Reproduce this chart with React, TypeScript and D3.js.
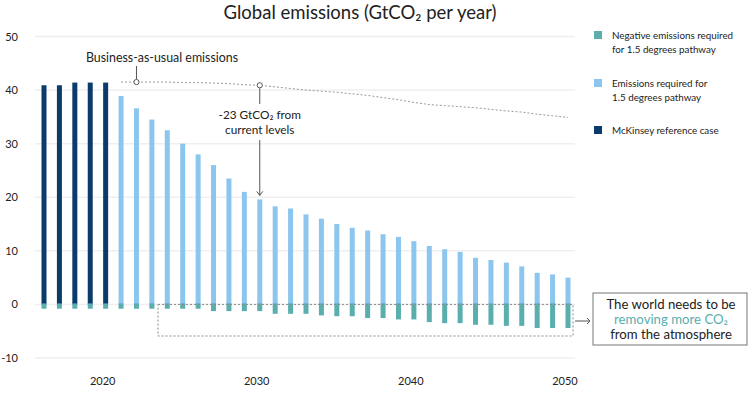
import { useEffect, useRef } from 'react'
import * as d3 from 'd3'

const years = d3.range(2016, 2051)
const referenceYears = [2016, 2017, 2018, 2019, 2020]
const referenceCase = [40.9, 40.9, 41.4, 41.4, 41.4]
const pathwayYears = d3.range(2021, 2051)
const pathwayEmissions = [
	38.9, 36.6, 34.5, 32.5, 30.0, 28.0, 26.0, 23.5, 21.0, 19.6,
	18.3, 17.9, 16.8, 16.0, 15.0, 14.3, 13.8, 13.1, 12.6, 11.8,
	10.9, 10.3, 9.8, 8.7, 8.3, 7.8, 7.1, 5.9, 5.6, 5.0,
]
const negativeEmissions = [
	-0.8, -0.8, -0.8, -0.8, -0.8, -0.8, -0.8, -0.8, -0.8, -0.8, -0.8,
	-1.25, -1.25, -1.25, -1.25, -1.75, -1.75, -1.75, -2.05, -2.2, -2.2,
	-2.55, -2.55, -2.8, -2.8, -3.3, -3.5, -3.5, -3.8, -3.8, -4.0, -4.0,
	-4.4, -4.4, -4.4,
]
const businessAsUsual = [
	41.5, 41.5, 41.5, 41.5, 41.4, 41.4, 41.3, 41.2, 41.0, 40.9,
	40.6, 40.3, 40.0, 39.8, 39.6, 39.3, 39.0, 38.6, 38.2, 37.7,
	37.3, 37.1, 36.9, 36.7, 36.4, 36.1, 35.9, 35.5, 35.2, 34.9,
]
const yTicks = [-10, 0, 10, 20, 30, 40, 50]
const xTicks = [2020, 2030, 2040, 2050]
const legendItems = [
	{ color: '#5aaeae', lines: ['Negative emissions required', 'for 1.5 degrees pathway'] },
	{ color: '#8cc6ee', lines: ['Emissions required for', '1.5 degrees pathway'] },
	{ color: '#0b3b6a', lines: ['McKinsey reference case'] },
]

const NAVY = '#0b3b6a'
const LIGHT = '#8cc6ee'
const TEAL = '#5aaeae'
const TEXT = '#222'
const FONT = 'Lato, "Open Sans", sans-serif'

const App = () => {
	const svgRef = useRef(null)

	useEffect(() => {
		document.body.style.margin = '0'
		const width = 752
		const height = 395
		const svg = d3.select(svgRef.current)
		svg.selectAll('*').remove()
		svg.attr('width', width).attr('height', height).style('font-family', FONT)

		const x = d3.scalePoint().domain(years).range([44, 568])
		const y = d3.scaleLinear().domain([-10, 50]).range([358, 36.5])
		const barW = 5

		// Title
		svg
			.append('text')
			.attr('x', 360)
			.attr('y', 19)
			.attr('text-anchor', 'middle')
			.attr('font-size', 18.5)
			.attr('fill', TEXT)
			.text('Global emissions (GtCO₂ per year)')

		// Grid
		svg
			.append('g')
			.selectAll('line')
			.data(yTicks)
			.join('line')
			.attr('x1', 35)
			.attr('x2', 575)
			.attr('y1', (d) => y(d))
			.attr('y2', (d) => y(d))
			.attr('stroke', '#efefef')
			.attr('stroke-width', 1.5)

		svg
			.append('g')
			.selectAll('text')
			.data(yTicks)
			.join('text')
			.attr('x', 18)
			.attr('y', (d) => y(d) + 4)
			.attr('text-anchor', 'end')
			.attr('font-size', 11)
			.attr('fill', TEXT)
			.text((d) => d)

		svg
			.append('g')
			.selectAll('text')
			.data(xTicks)
			.join('text')
			.attr('x', (d) => x(d) - 3)
			.attr('y', 385)
			.attr('text-anchor', 'middle')
			.attr('font-size', 11)
			.attr('fill', TEXT)
			.text((d) => d)

		// Bars
		svg
			.append('g')
			.selectAll('rect')
			.data(referenceYears)
			.join('rect')
			.attr('x', (d) => x(d) - barW / 2)
			.attr('width', barW)
			.attr('y', (d, i) => y(referenceCase[i]))
			.attr('height', (d, i) => y(0) - y(referenceCase[i]))
			.attr('fill', NAVY)

		svg
			.append('g')
			.selectAll('rect')
			.data(pathwayYears)
			.join('rect')
			.attr('x', (d) => x(d) - barW / 2)
			.attr('width', barW)
			.attr('y', (d, i) => y(pathwayEmissions[i]))
			.attr('height', (d, i) => y(0) - y(pathwayEmissions[i]))
			.attr('fill', LIGHT)

		svg
			.append('g')
			.selectAll('rect')
			.data(years)
			.join('rect')
			.attr('x', (d) => x(d) - barW / 2)
			.attr('width', barW)
			.attr('y', y(0) - 1)
			.attr('height', (d, i) => y(negativeEmissions[i]) - y(0) + 1)
			.attr('fill', TEAL)

		// Business-as-usual line
		const line = d3
			.line()
			.x((d, i) => x(pathwayYears[i]))
			.y((d) => y(d))
		svg
			.append('path')
			.datum(businessAsUsual)
			.attr('d', line)
			.attr('fill', 'none')
			.attr('stroke', '#999')
			.attr('stroke-width', 1)
			.attr('stroke-dasharray', '2,2')

		const bauX = x(2022)
		const bauY = y(businessAsUsual[1])
		svg
			.append('line')
			.attr('x1', bauX)
			.attr('x2', bauX)
			.attr('y1', 66)
			.attr('y2', bauY - 3)
			.attr('stroke', '#555')
		svg
			.append('circle')
			.attr('cx', bauX)
			.attr('cy', bauY)
			.attr('r', 2.6)
			.attr('fill', 'white')
			.attr('stroke', '#555')
		svg
			.append('text')
			.attr('x', 162)
			.attr('y', 62)
			.attr('text-anchor', 'middle')
			.attr('font-size', 12.4)
			.attr('fill', TEXT)
			.text('Business-as-usual emissions')

		// -23 GtCO2 annotation
		const gapX = x(2030)
		const gapY = y(businessAsUsual[9])
		const gapEnd = y(pathwayEmissions[9]) - 4
		svg
			.append('line')
			.attr('x1', gapX)
			.attr('x2', gapX)
			.attr('y1', gapY + 3)
			.attr('y2', 104)
			.attr('stroke', '#555')
		svg
			.append('line')
			.attr('x1', gapX)
			.attr('x2', gapX)
			.attr('y1', 140)
			.attr('y2', gapEnd)
			.attr('stroke', '#555')
		svg
			.append('path')
			.attr('d', `M${gapX - 3},${gapEnd - 4} L${gapX},${gapEnd} L${gapX + 3},${gapEnd - 4}`)
			.attr('fill', 'none')
			.attr('stroke', '#555')
		svg
			.append('circle')
			.attr('cx', gapX)
			.attr('cy', gapY)
			.attr('r', 2.6)
			.attr('fill', 'white')
			.attr('stroke', '#555')
		svg
			.append('g')
			.selectAll('text')
			.data(['-23 GtCO₂ from', 'current levels'])
			.join('text')
			.attr('x', gapX)
			.attr('y', (d, i) => 119 + i * 15)
			.attr('text-anchor', 'middle')
			.attr('font-size', 11.8)
			.attr('fill', TEXT)
			.text((d) => d)

		// Dashed box around negative emissions
		const boxL = 158
		const boxR = 573
		const boxB = 336
		svg
			.append('path')
			.attr('d', `M${boxL},${y(0)} L${boxR},${y(0)} L${boxR},${boxB} L${boxL},${boxB} Z`)
			.attr('fill', 'none')
			.attr('stroke', '#8a8a8a')
			.attr('stroke-width', 1)
			.attr('stroke-dasharray', '2,2')

		svg
			.append('line')
			.attr('x1', 575)
			.attr('x2', 590)
			.attr('y1', 321)
			.attr('y2', 321)
			.attr('stroke', '#555')
		svg
			.append('path')
			.attr('d', 'M587,318 L590,321 L587,324')
			.attr('fill', 'none')
			.attr('stroke', '#555')

		// Callout
		svg
			.append('rect')
			.attr('x', 593)
			.attr('y', 293)
			.attr('width', 154)
			.attr('height', 52)
			.attr('fill', 'white')
			.attr('stroke', '#777')
			.attr('stroke-width', 1)
		const calloutLines = [
			{ text: 'The world needs to be', color: TEXT },
			{ text: 'removing more CO₂', color: TEAL },
			{ text: 'from the atmosphere', color: TEXT },
		]
		svg
			.append('g')
			.selectAll('text')
			.data(calloutLines)
			.join('text')
			.attr('x', 671)
			.attr('y', (d, i) => 309 + i * 15)
			.attr('text-anchor', 'middle')
			.attr('font-size', 13.2)
			.attr('fill', (d) => d.color)
			.text((d) => d.text)

		// Legend
		const legendTop = [31, 79, 126]
		legendItems.forEach((item, i) => {
			const g = svg.append('g').attr('transform', `translate(594,${legendTop[i]})`)
			g.append('rect').attr('width', 8).attr('height', 8).attr('fill', item.color)
			g.selectAll('text')
				.data(item.lines)
				.join('text')
				.attr('x', 18)
				.attr('y', (d, j) => 8 + j * 14)
				.attr('font-size', 9.8)
				.attr('fill', TEXT)
				.text((d) => d)
		})
	}, [])

	return <svg ref={svgRef} style={{ display: 'block' }}></svg>
}

export default App
